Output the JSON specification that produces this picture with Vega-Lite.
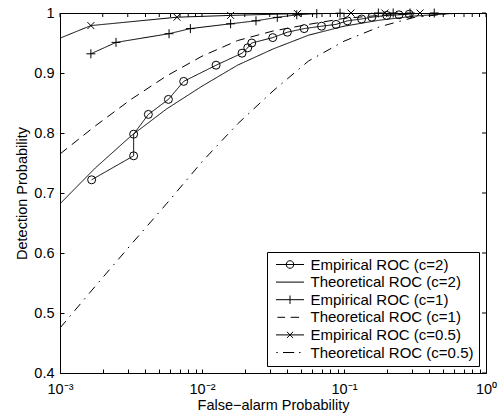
{
  "$schema": "https://vega.github.io/schema/vega-lite/v6.json",
  "width": 426,
  "height": 360,
  "autosize": {"type": "none"},
  "padding": {"left": 60, "top": 13, "right": 14, "bottom": 47},
  "background": "white",
  "config": {
    "font": "Liberation Sans",
    "view": {"stroke": "black", "strokeWidth": 1},
    "axis": {
      "grid": false,
      "domain": false,
      "tickColor": "black",
      "tickSize": -4,
      "tickWidth": 1,
      "labelColor": "black",
      "titleColor": "black",
      "labelFont": "Liberation Sans",
      "titleFont": "Liberation Sans",
      "labelFontSize": 14.5,
      "titleFontSize": 14.5,
      "titleFontWeight": "normal",
      "labelOverlap": false,
      "labelFlush": false
    }
  },
  "datasets": {
    "xticks": [
      {"v": 0.001}, {"v": 0.002}, {"v": 0.003}, {"v": 0.004}, {"v": 0.005}, {"v": 0.006}, {"v": 0.007}, {"v": 0.008}, {"v": 0.009},
      {"v": 0.01}, {"v": 0.02}, {"v": 0.03}, {"v": 0.04}, {"v": 0.05}, {"v": 0.06}, {"v": 0.07}, {"v": 0.08}, {"v": 0.09},
      {"v": 0.1}, {"v": 0.2}, {"v": 0.3}, {"v": 0.4}, {"v": 0.5}, {"v": 0.6}, {"v": 0.7}, {"v": 0.8}, {"v": 0.9}, {"v": 1}
    ],
    "yticks": [
      {"v": 0.4}, {"v": 0.5}, {"v": 0.6}, {"v": 0.7}, {"v": 0.8}, {"v": 0.9}, {"v": 1}
    ],
    "roc": [
      {"series": "Empirical ROC (c=2)", "fpr": 0.00167, "pd": 0.722},
      {"series": "Empirical ROC (c=2)", "fpr": 0.0033, "pd": 0.762},
      {"series": "Empirical ROC (c=2)", "fpr": 0.0033, "pd": 0.798},
      {"series": "Empirical ROC (c=2)", "fpr": 0.00419, "pd": 0.831},
      {"series": "Empirical ROC (c=2)", "fpr": 0.0058, "pd": 0.856},
      {"series": "Empirical ROC (c=2)", "fpr": 0.00743, "pd": 0.886},
      {"series": "Empirical ROC (c=2)", "fpr": 0.01256, "pd": 0.913},
      {"series": "Empirical ROC (c=2)", "fpr": 0.01914, "pd": 0.933},
      {"series": "Empirical ROC (c=2)", "fpr": 0.021, "pd": 0.942},
      {"series": "Empirical ROC (c=2)", "fpr": 0.0224, "pd": 0.95},
      {"series": "Empirical ROC (c=2)", "fpr": 0.0315, "pd": 0.959},
      {"series": "Empirical ROC (c=2)", "fpr": 0.0399, "pd": 0.968},
      {"series": "Empirical ROC (c=2)", "fpr": 0.0524, "pd": 0.974},
      {"series": "Empirical ROC (c=2)", "fpr": 0.0695, "pd": 0.978},
      {"series": "Empirical ROC (c=2)", "fpr": 0.0879, "pd": 0.981},
      {"series": "Empirical ROC (c=2)", "fpr": 0.1057, "pd": 0.987},
      {"series": "Empirical ROC (c=2)", "fpr": 0.133, "pd": 0.99},
      {"series": "Empirical ROC (c=2)", "fpr": 0.157, "pd": 0.993},
      {"series": "Empirical ROC (c=2)", "fpr": 0.2, "pd": 0.996},
      {"series": "Empirical ROC (c=2)", "fpr": 0.244, "pd": 0.997},
      {"series": "Empirical ROC (c=2)", "fpr": 0.288, "pd": 0.998},

      {"series": "Theoretical ROC (c=2)", "fpr": 0.001, "pd": 0.682},
      {"series": "Theoretical ROC (c=2)", "fpr": 0.001778, "pd": 0.742},
      {"series": "Theoretical ROC (c=2)", "fpr": 0.003162, "pd": 0.795},
      {"series": "Theoretical ROC (c=2)", "fpr": 0.005623, "pd": 0.84},
      {"series": "Theoretical ROC (c=2)", "fpr": 0.01, "pd": 0.878},
      {"series": "Theoretical ROC (c=2)", "fpr": 0.01778, "pd": 0.913},
      {"series": "Theoretical ROC (c=2)", "fpr": 0.03162, "pd": 0.94},
      {"series": "Theoretical ROC (c=2)", "fpr": 0.05623, "pd": 0.963},
      {"series": "Theoretical ROC (c=2)", "fpr": 0.1, "pd": 0.978},
      {"series": "Theoretical ROC (c=2)", "fpr": 0.1778, "pd": 0.988},
      {"series": "Theoretical ROC (c=2)", "fpr": 0.3162, "pd": 0.995},
      {"series": "Theoretical ROC (c=2)", "fpr": 0.5623, "pd": 0.999},
      {"series": "Theoretical ROC (c=2)", "fpr": 1, "pd": 1.0},

      {"series": "Empirical ROC (c=1)", "fpr": 0.00165, "pd": 0.932},
      {"series": "Empirical ROC (c=1)", "fpr": 0.00248, "pd": 0.951},
      {"series": "Empirical ROC (c=1)", "fpr": 0.00586, "pd": 0.9655},
      {"series": "Empirical ROC (c=1)", "fpr": 0.00828, "pd": 0.974},
      {"series": "Empirical ROC (c=1)", "fpr": 0.0159, "pd": 0.982},
      {"series": "Empirical ROC (c=1)", "fpr": 0.024, "pd": 0.987},
      {"series": "Empirical ROC (c=1)", "fpr": 0.0339, "pd": 0.9927},
      {"series": "Empirical ROC (c=1)", "fpr": 0.0465, "pd": 0.997},
      {"series": "Empirical ROC (c=1)", "fpr": 0.0643, "pd": 0.999},
      {"series": "Empirical ROC (c=1)", "fpr": 0.0938, "pd": 0.9997},
      {"series": "Empirical ROC (c=1)", "fpr": 0.1745, "pd": 1.0},
      {"series": "Empirical ROC (c=1)", "fpr": 0.222, "pd": 1.0},
      {"series": "Empirical ROC (c=1)", "fpr": 0.292, "pd": 1.0},
      {"series": "Empirical ROC (c=1)", "fpr": 0.432, "pd": 1.0},

      {"series": "Theoretical ROC (c=1)", "fpr": 0.001, "pd": 0.765},
      {"series": "Theoretical ROC (c=1)", "fpr": 0.001778, "pd": 0.812},
      {"series": "Theoretical ROC (c=1)", "fpr": 0.003162, "pd": 0.856},
      {"series": "Theoretical ROC (c=1)", "fpr": 0.005623, "pd": 0.895},
      {"series": "Theoretical ROC (c=1)", "fpr": 0.01, "pd": 0.928},
      {"series": "Theoretical ROC (c=1)", "fpr": 0.01778, "pd": 0.954},
      {"series": "Theoretical ROC (c=1)", "fpr": 0.03162, "pd": 0.97},
      {"series": "Theoretical ROC (c=1)", "fpr": 0.05623, "pd": 0.981},
      {"series": "Theoretical ROC (c=1)", "fpr": 0.1, "pd": 0.991},
      {"series": "Theoretical ROC (c=1)", "fpr": 0.1778, "pd": 0.996},
      {"series": "Theoretical ROC (c=1)", "fpr": 0.3162, "pd": 0.999},
      {"series": "Theoretical ROC (c=1)", "fpr": 0.5623, "pd": 1.0},
      {"series": "Theoretical ROC (c=1)", "fpr": 1, "pd": 1.0},

      {"series": "Empirical ROC (c=0.5)", "fpr": 0.0005, "pd": 0.929},
      {"series": "Empirical ROC (c=0.5)", "fpr": 0.00165, "pd": 0.979},
      {"series": "Empirical ROC (c=0.5)", "fpr": 0.00667, "pd": 0.993},
      {"series": "Empirical ROC (c=0.5)", "fpr": 0.0159, "pd": 0.996},
      {"series": "Empirical ROC (c=0.5)", "fpr": 0.047, "pd": 0.999},
      {"series": "Empirical ROC (c=0.5)", "fpr": 0.112, "pd": 1.0},
      {"series": "Empirical ROC (c=0.5)", "fpr": 0.194, "pd": 1.0},
      {"series": "Empirical ROC (c=0.5)", "fpr": 0.343, "pd": 1.0},

      {"series": "Theoretical ROC (c=0.5)", "fpr": 0.001, "pd": 0.475},
      {"series": "Theoretical ROC (c=0.5)", "fpr": 0.001778, "pd": 0.545},
      {"series": "Theoretical ROC (c=0.5)", "fpr": 0.003162, "pd": 0.614},
      {"series": "Theoretical ROC (c=0.5)", "fpr": 0.005623, "pd": 0.682},
      {"series": "Theoretical ROC (c=0.5)", "fpr": 0.01, "pd": 0.752},
      {"series": "Theoretical ROC (c=0.5)", "fpr": 0.01778, "pd": 0.815},
      {"series": "Theoretical ROC (c=0.5)", "fpr": 0.03162, "pd": 0.87},
      {"series": "Theoretical ROC (c=0.5)", "fpr": 0.05623, "pd": 0.92},
      {"series": "Theoretical ROC (c=0.5)", "fpr": 0.1, "pd": 0.953},
      {"series": "Theoretical ROC (c=0.5)", "fpr": 0.1778, "pd": 0.977},
      {"series": "Theoretical ROC (c=0.5)", "fpr": 0.3162, "pd": 0.993},
      {"series": "Theoretical ROC (c=0.5)", "fpr": 0.5623, "pd": 0.999},
      {"series": "Theoretical ROC (c=0.5)", "fpr": 1, "pd": 1.0}
    ]
  },
  "resolve": {"scale": {"x": "independent", "y": "independent"}, "axis": {"x": "independent", "y": "independent"}},
  "layer": [
    {
      "data": {"name": "roc"},
      "mark": {"type": "line", "color": "black", "strokeWidth": 1, "clip": true},
      "encoding": {
        "x": {
          "field": "fpr", "type": "quantitative",
          "scale": {"type": "log", "domain": [0.001, 1], "nice": false},
          "axis": {
            "orient": "bottom",
            "values": [0.001, 0.002, 0.003, 0.004, 0.005, 0.006, 0.007, 0.008, 0.009, 0.01, 0.02, 0.03, 0.04, 0.05, 0.06, 0.07, 0.08, 0.09, 0.1, 0.2, 0.3, 0.4, 0.5, 0.6, 0.7, 0.8, 0.9, 1],
            "labelExpr": "datum.value == 0.001 ? '10⁻³' : datum.value == 0.01 ? '10⁻²' : datum.value == 0.1 ? '10⁻¹' : datum.value == 1 ? '10⁰' : ''",
            "labelPadding": 13,
            "title": "False−alarm Probability",
            "titlePadding": 3
          }
        },
        "y": {
          "field": "pd", "type": "quantitative",
          "scale": {"domain": [0.4, 1], "nice": false, "zero": false},
          "axis": {
            "orient": "left",
            "values": [0.4, 0.5, 0.6, 0.7, 0.8, 0.9, 1],
            "labelExpr": "datum.value == 1 ? '1' : format(datum.value, '.1f')",
            "labelPadding": 10,
            "title": "Detection Probability",
            "titlePadding": 4
          }
        },
        "detail": {"field": "series"},
        "strokeDash": {
          "field": "series", "type": "nominal",
          "scale": {
            "domain": ["Theoretical ROC (c=1)", "Theoretical ROC (c=0.5)", "Theoretical ROC (c=2)", "Empirical ROC (c=2)", "Empirical ROC (c=1)", "Empirical ROC (c=0.5)"],
            "range": [[9, 6], [9, 6, 1.5, 6], [1, 0], [1, 0], [1, 0], [1, 0]]
          },
          "legend": null
        },
        "order": {"value": null}
      }
    },
    {
      "data": {"name": "xticks"},
      "mark": {"type": "rule", "color": "black", "strokeWidth": 1},
      "encoding": {
        "x": {"field": "v", "type": "quantitative", "scale": {"type": "log", "domain": [0.001, 1], "nice": false}, "axis": null},
        "y": {"datum": 1, "type": "quantitative", "scale": {"domain": [0.4, 1], "nice": false, "zero": false}, "axis": null},
        "y2": {"datum": 0.99333}
      }
    },
    {
      "data": {"name": "yticks"},
      "mark": {"type": "rule", "color": "black", "strokeWidth": 1},
      "encoding": {
        "y": {"field": "v", "type": "quantitative", "scale": {"domain": [0.4, 1], "nice": false, "zero": false}, "axis": null},
        "x": {"datum": 1, "type": "quantitative", "scale": {"type": "log", "domain": [0.001, 1], "nice": false}, "axis": null},
        "x2": {"datum": 0.937}
      }
    },
    {
      "data": {"name": "roc"},
      "transform": [{"filter": "datum.series == 'Empirical ROC (c=2)'"}],
      "mark": {"type": "point", "shape": "circle", "filled": false, "color": "black", "strokeWidth": 1, "size": 64, "opacity": 1},
      "encoding": {
        "x": {"field": "fpr", "type": "quantitative", "scale": {"type": "log", "domain": [0.001, 1], "nice": false}, "axis": null},
        "y": {"field": "pd", "type": "quantitative", "scale": {"domain": [0.4, 1], "nice": false, "zero": false}, "axis": null}
      }
    },
    {
      "data": {"name": "roc"},
      "transform": [{"filter": "datum.series == 'Empirical ROC (c=1)'"}],
      "mark": {"type": "point", "shape": "M-1,0L1,0M0,-1L0,1", "filled": false, "color": "black", "strokeWidth": 1, "size": 81, "opacity": 1},
      "encoding": {
        "x": {"field": "fpr", "type": "quantitative", "scale": {"type": "log", "domain": [0.001, 1], "nice": false}, "axis": null},
        "y": {"field": "pd", "type": "quantitative", "scale": {"domain": [0.4, 1], "nice": false, "zero": false}, "axis": null}
      }
    },
    {
      "data": {"name": "roc"},
      "transform": [{"filter": "datum.series == 'Empirical ROC (c=0.5)' && datum.fpr >= 0.001"}],
      "mark": {"type": "point", "shape": "M-1,-1L1,1M-1,1L1,-1", "filled": false, "color": "black", "strokeWidth": 1, "size": 49, "opacity": 1},
      "encoding": {
        "x": {"field": "fpr", "type": "quantitative", "scale": {"type": "log", "domain": [0.001, 1], "nice": false}, "axis": null},
        "y": {"field": "pd", "type": "quantitative", "scale": {"domain": [0.4, 1], "nice": false, "zero": false}, "axis": null}
      }
    },
    {
      "data": {"name": "roc"},
      "mark": {"type": "point", "filled": false, "color": "black", "size": 0, "opacity": 1},
      "encoding": {
        "x": {"field": "fpr", "type": "quantitative", "scale": {"type": "log", "domain": [0.001, 1], "nice": false}, "axis": null},
        "y": {"field": "pd", "type": "quantitative", "scale": {"domain": [0.4, 1], "nice": false, "zero": false}, "axis": null},
        "shape": {
          "field": "series", "type": "nominal",
          "scale": {
            "domain": ["Empirical ROC (c=2)", "Theoretical ROC (c=2)", "Empirical ROC (c=1)", "Theoretical ROC (c=1)", "Empirical ROC (c=0.5)", "Theoretical ROC (c=0.5)"],
            "range": [
              "M-2,0L2,0M0.54,0A0.54,0.54 0 1,1 -0.54,0A0.54,0.54 0 1,1 0.54,0",
              "M-2,0L2,0",
              "M-2,0L2,0M0,-0.6L0,0.6",
              "M-1.8,0L-0.7,0M0.1,0L1.3,0",
              "M-2,0L2,0M-0.44,-0.44L0.44,0.44M-0.44,0.44L0.44,-0.44",
              "M-1.95,0L-1.75,0M-1,0L0.6,0M1.3,0L1.5,0"
            ]
          },
          "legend": {
            "title": null,
            "orient": "bottom-right",
            "offset": 7,
            "strokeColor": "black",
            "fillColor": "white",
            "padding": 5,
            "cornerRadius": 0,
            "symbolSize": 196,
            "symbolOffset": 10.5,
            "symbolStrokeColor": "black",
            "symbolStrokeWidth": 1,
            "symbolOpacity": 1,
            "labelFont": "Liberation Sans",
            "labelFontSize": 15,
            "labelColor": "black",
            "labelOffset": 13,
            "labelLimit": 0,
            "rowPadding": 1.6
          }
        }
      }
    }
  ]
}
